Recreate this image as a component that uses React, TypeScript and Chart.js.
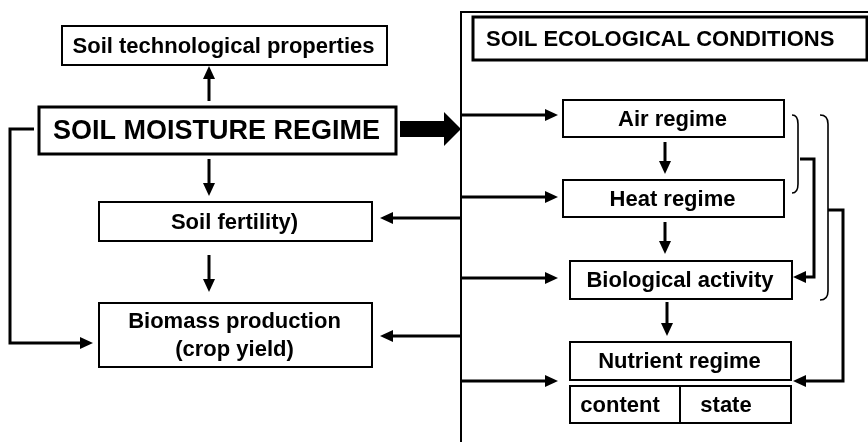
import React, { useEffect, useRef } from "react";
import { Chart, registerables } from "chart.js";

Chart.register(...registerables);

// ---- Diagram data (coordinates in diagram units, mapped through the chart's linear scales) ----
const boxLabels: string[] = [
  "Soil technological properties",
  "SOIL MOISTURE REGIME",
  "Soil fertility)",
  "Biomass production\n(crop yield)",
  "SOIL ECOLOGICAL CONDITIONS",
  "Air regime",
  "Heat regime",
  "Biological activity",
  "Nutrient regime",
];
// [x1, y1, x2, y2]
const boxRects: number[][] = [
  [62, 26, 387, 65],
  [39, 107, 396, 154],
  [99, 202, 372, 241],
  [99, 303, 372, 367],
  [473, 17, 867, 60],
  [563, 100, 784, 137],
  [563, 180, 784, 217],
  [570, 261, 792, 299],
  [570, 342, 791, 380],
];
const cellLabels: string[] = ["content", "state"];
const cellRects: number[][] = [
  [570, 386, 680, 423],
  [680, 386, 791, 423],
];
const cellTextX: number[] = [620, 726];

// connectors: polylines, last point is the arrow tip
const arrowPaths: number[][][] = [
  [[209, 101], [209, 66]],
  [[209, 159], [209, 196]],
  [[209, 255], [209, 292]],
  [[34, 129], [10, 129], [10, 343], [93, 343]],
  [[461, 218], [380, 218]],
  [[461, 336], [380, 336]],
  [[461, 115], [558, 115]],
  [[461, 197], [558, 197]],
  [[461, 278], [558, 278]],
  [[461, 381], [558, 381]],
  [[665, 142], [665, 174]],
  [[665, 222], [665, 254]],
  [[667, 302], [667, 336]],
  [[800, 159], [814, 159], [814, 277], [793, 277]],
  [[828, 210], [843, 210], [843, 381], [793, 381]],
];
const framePath: number[][] = [[461, 442], [461, 12], [868, 12]];
const bigArrowShaft: number[] = [400, 121, 445, 137];
const bigArrowHead: number[][] = [[444, 112], [461, 129], [444, 146]];
// brackets: [x end, x vertical, y top, y bottom]
const brackets: number[][] = [
  [792, 798, 115, 193],
  [820, 828, 115, 300],
];

const FONT = '"Liberation Sans", Arial, Helvetica, sans-serif';

const diagramPlugin = {
  id: "diagram",
  afterDatasetsDraw(chart: any) {
    const ctx: CanvasRenderingContext2D = chart.ctx;
    const xs = chart.scales.x;
    const ys = chart.scales.y;
    const X = (v: number) => xs.getPixelForValue(v);
    const Y = (v: number) => ys.getPixelForValue(v);
    ctx.save();
    ctx.strokeStyle = "#000";
    ctx.fillStyle = "#000";

    // frame
    ctx.lineWidth = 2;
    ctx.beginPath();
    framePath.forEach((p, i) => (i ? ctx.lineTo(X(p[0]), Y(p[1])) : ctx.moveTo(X(p[0]), Y(p[1]))));
    ctx.stroke();

    // boxes
    boxRects.forEach((r, i) => {
      const thick = i === 1 || i === 4;
      ctx.lineWidth = thick ? 3 : 2;
      ctx.fillStyle = "#fff";
      ctx.fillRect(X(r[0]), Y(r[1]), X(r[2]) - X(r[0]), Y(r[3]) - Y(r[1]));
      ctx.strokeRect(X(r[0]), Y(r[1]), X(r[2]) - X(r[0]), Y(r[3]) - Y(r[1]));
      ctx.fillStyle = "#000";
      const size = i === 1 ? 27 : 22;
      ctx.font = `bold ${size}px ${FONT}`;
      ctx.textBaseline = "middle";
      const lines = boxLabels[i].split("\n");
      const cy = (Y(r[1]) + Y(r[3])) / 2 + 1;
      const lh = 28;
      lines.forEach((ln, k) => {
        const y = cy + (k - (lines.length - 1) / 2) * lh;
        if (i === 4) {
          ctx.textAlign = "left";
          ctx.fillText(ln, X(486), y);
        } else {
          ctx.textAlign = "center";
          ctx.fillText(ln, (X(r[0]) + X(r[2])) / 2 - 1, y);
        }
      });
    });
    cellRects.forEach((r, i) => {
      ctx.lineWidth = 2;
      ctx.strokeRect(X(r[0]), Y(r[1]), X(r[2]) - X(r[0]), Y(r[3]) - Y(r[1]));
      ctx.font = `bold 22px ${FONT}`;
      ctx.textAlign = "center";
      ctx.textBaseline = "middle";
      ctx.fillText(cellLabels[i], X(cellTextX[i]), (Y(r[1]) + Y(r[3])) / 2 + 1);
    });

    // arrows
    ctx.lineWidth = 3;
    ctx.lineJoin = "miter";
    arrowPaths.forEach((path) => {
      const n = path.length;
      const tip = path[n - 1];
      const prev = path[n - 2];
      const tx = X(tip[0]), ty = Y(tip[1]);
      const px = X(prev[0]), py = Y(prev[1]);
      const ang = Math.atan2(ty - py, tx - px);
      const L = 13, W = 6;
      const bx = tx - Math.cos(ang) * L;
      const by = ty - Math.sin(ang) * L;
      ctx.beginPath();
      path.forEach((p, i) => {
        const x = i === n - 1 ? bx : X(p[0]);
        const y = i === n - 1 ? by : Y(p[1]);
        if (i) ctx.lineTo(x, y);
        else ctx.moveTo(x, y);
      });
      ctx.stroke();
      ctx.beginPath();
      ctx.moveTo(tx, ty);
      ctx.lineTo(bx - Math.sin(ang) * W, by + Math.cos(ang) * W);
      ctx.lineTo(bx + Math.sin(ang) * W, by - Math.cos(ang) * W);
      ctx.closePath();
      ctx.fill();
    });

    // big arrow
    const s = bigArrowShaft;
    ctx.fillRect(X(s[0]), Y(s[1]), X(s[2]) - X(s[0]), Y(s[3]) - Y(s[1]));
    ctx.beginPath();
    bigArrowHead.forEach((p, i) => (i ? ctx.lineTo(X(p[0]), Y(p[1])) : ctx.moveTo(X(p[0]), Y(p[1]))));
    ctx.closePath();
    ctx.fill();

    // brackets
    ctx.lineWidth = 1.6;
    brackets.forEach((b) => {
      const [xe, xv, yt, yb] = b;
      ctx.beginPath();
      ctx.moveTo(X(xe), Y(yt));
      ctx.quadraticCurveTo(X(xv), Y(yt), X(xv), Y(yt + 9));
      ctx.lineTo(X(xv), Y(yb - 9));
      ctx.quadraticCurveTo(X(xv), Y(yb), X(xe), Y(yb));
      ctx.stroke();
    });

    ctx.restore();
  },
};

export default function App() {
  const ref = useRef<HTMLCanvasElement | null>(null);
  useEffect(() => {
    document.body.style.margin = "0";
    if (!ref.current) return;
    const chart = new Chart(ref.current, {
      type: "scatter",
      data: { datasets: [{ data: [], pointRadius: 0 }] },
      options: {
        animation: false,
        responsive: false,
        maintainAspectRatio: false,
        layout: { padding: 0 },
        plugins: { legend: { display: false }, tooltip: { enabled: false } },
        scales: {
          x: { type: "linear", min: 0, max: 868, display: false },
          y: { type: "linear", min: 0, max: 442, reverse: true, display: false },
        },
      },
      plugins: [diagramPlugin],
    });
    return () => chart.destroy();
  }, []);
  return (
    <div style={{ width: 868, height: 442, background: "#fff" }}>
      <canvas ref={ref} width={868} height={442} style={{ display: "block" }} />
    </div>
  );
}
